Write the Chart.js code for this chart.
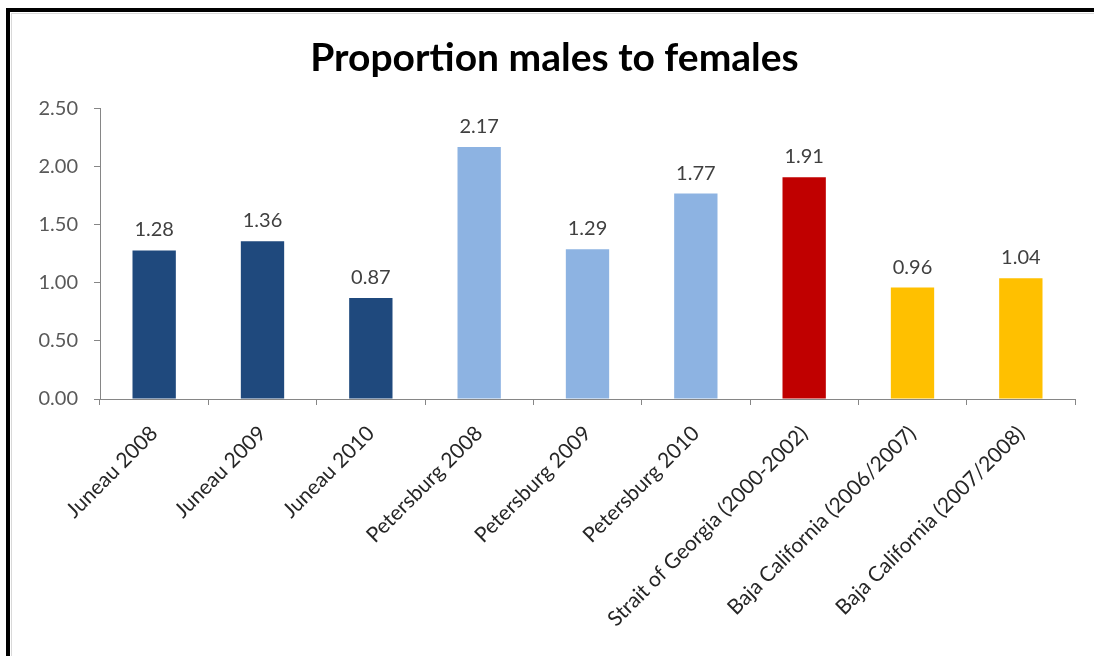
<!DOCTYPE html>
<html>
<head>
<meta charset="utf-8">
<script src="https://cdn.jsdelivr.net/npm/chart.js@4"></script>
<style>
  html, body { margin: 0; padding: 0; background: #fff; }
  #wrap { position: relative; width: 1094px; height: 656px; overflow: hidden; }
  #chart { position: absolute; left: 0; top: 0; }
  .frame { position: absolute; left: 6px; top: 8px; right: -10px; bottom: -10px;
           border-top: 4px solid #000; border-left: 4px solid #000; pointer-events: none; }
  .inner { position: absolute; left: 11px; top: 13px; right: -10px; bottom: -10px;
           border-top: 1px solid #d9d9d9; border-left: 1px solid #d9d9d9; pointer-events: none; }
</style>
</head>
<body>
<div id="wrap">
  <canvas id="chart" width="1094" height="656"></canvas>
  <div class="inner"></div>
  <div class="frame"></div>
</div>
<script>
// --- DATA ---
const categories = [
    'Juneau 2008', 'Juneau 2009', 'Juneau 2010',
    'Petersburg 2008', 'Petersburg 2009', 'Petersburg 2010',
    'Strait of Georgia (2000-2002)',
    'Baja California (2006/2007)', 'Baja California (2007/2008)'
];
const ratios = [1.28, 1.36, 0.87, 2.17, 1.29, 1.77, 1.91, 0.96, 1.04];
const barColors = [
    '#1F497D', '#1F497D', '#1F497D',
    '#8DB3E2', '#8DB3E2', '#8DB3E2',
    '#C00000',
    '#FFC000', '#FFC000'
];
const yTicks = [0, 0.5, 1, 1.5, 2, 2.5];

const FONT = 'Lato, "Open Sans", sans-serif';

// value labels above each bar
const barLabels = {
    id: 'barLabels',
    afterDatasetsDraw(chart) {
        const c = chart.ctx;
        const meta = chart.getDatasetMeta(0);
        c.save();
        c.font = '20px ' + FONT;
        c.fillStyle = '#404040';
        c.textAlign = 'center';
        c.textBaseline = 'alphabetic';
        meta.data.forEach((bar, i) => {
            c.fillText(ratios[i].toFixed(2), bar.x, bar.y - 14);
        });
        c.restore();
    }
};

new Chart(document.getElementById('chart'), {
    type: 'bar',
    data: {
        labels: categories,
        datasets: [{
            data: ratios,
            backgroundColor: barColors,
            barPercentage: 0.4,
            categoryPercentage: 1.0
        }]
    },
    options: {
        responsive: false,
        animation: false,
        layout: { padding: { left: 34, right: 19, top: 0, bottom: 0 } },
        plugins: {
            legend: { display: false },
            tooltip: { enabled: false },
            title: {
                display: true,
                text: 'Proportion males to females',
                color: '#000',
                font: { family: FONT, size: 39, weight: 'bold', lineHeight: 1.2 },
                padding: { top: 35, bottom: 27 }
            }
        },
        scales: {
            x: {
                grid: { drawOnChartArea: false, drawTicks: true, tickLength: 6, color: '#868686', offset: true },
                border: { color: '#868686', width: 1 },
                ticks: {
                    color: '#262626',
                    font: { family: FONT, size: 21 },
                    maxRotation: 45, minRotation: 45,
                    padding: 16,
                    autoSkip: false
                },
                afterFit(scale) { scale.height = 257; }
            },
            y: {
                min: 0, max: 2.5,
                afterBuildTicks(scale) { scale.ticks = yTicks.map(v => ({ value: v })); },
                grid: { drawOnChartArea: false, drawTicks: true, tickLength: 6, color: '#868686' },
                border: { color: '#868686', width: 1 },
                ticks: {
                    color: '#595959',
                    font: { family: FONT, size: 20 },
                    padding: 16,
                    callback: v => Number(v).toFixed(2)
                },
                afterFit(scale) { scale.width = 66; }
            }
        }
    },
    plugins: [barLabels]
});
</script>
</body>
</html>
